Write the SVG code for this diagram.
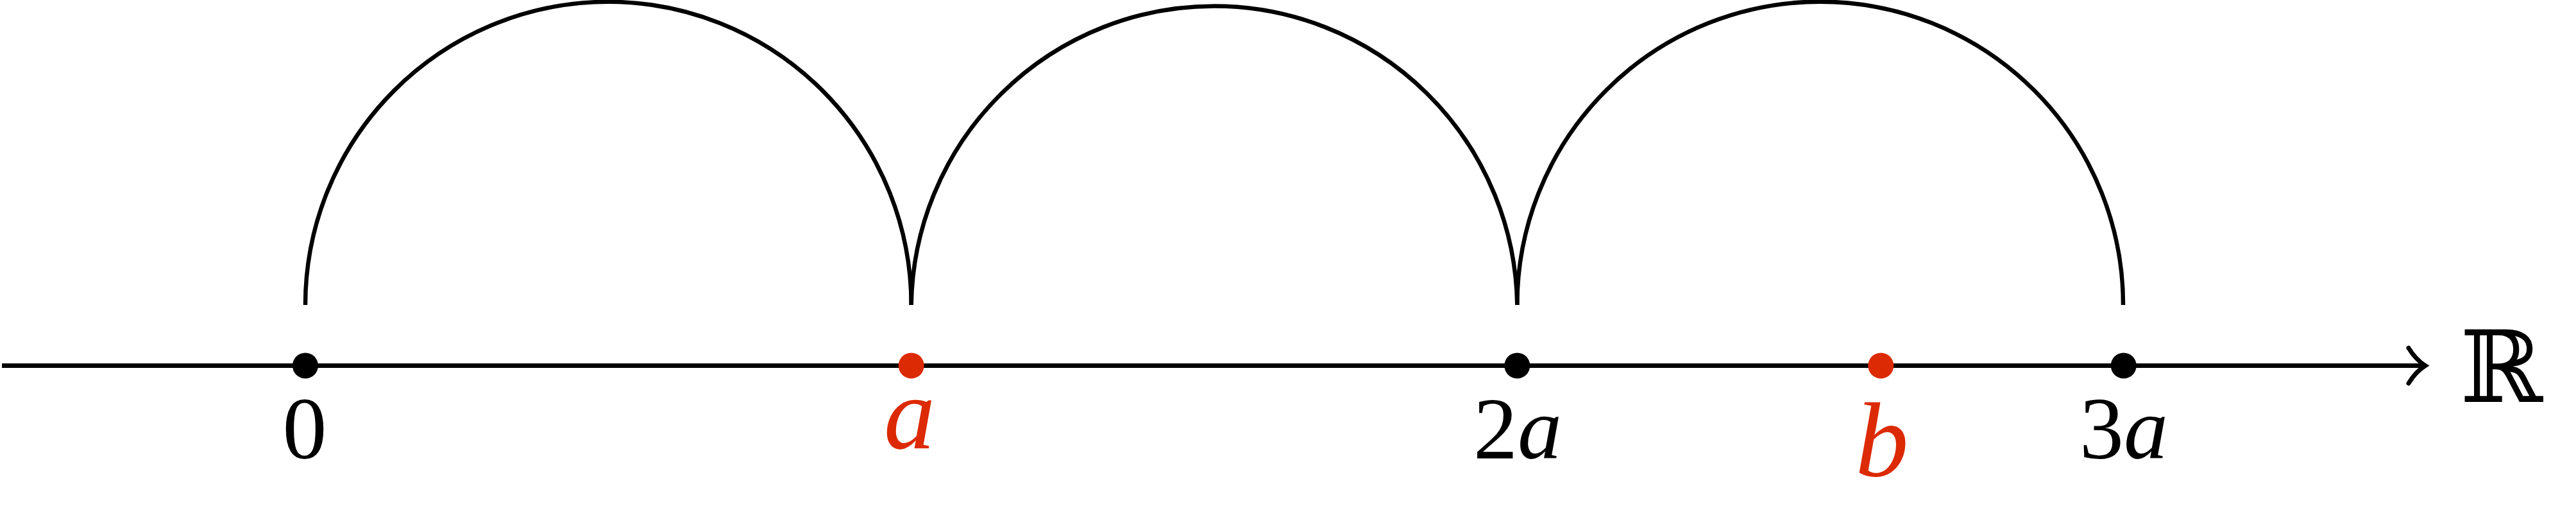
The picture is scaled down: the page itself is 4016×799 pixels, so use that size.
<svg xmlns="http://www.w3.org/2000/svg" width="4016" height="799" viewBox="0 0 4016 799">
<style>
.ln{fill:none;stroke:#000;stroke-width:7}
.arc{fill:none;stroke:#000;stroke-width:6.5}
.blk{fill:#000}
.red{fill:#dc2a04}
.t{font-family:"Liberation Serif",serif;text-anchor:middle}
.it{font-style:italic}
</style>
<rect width="4016" height="799" fill="#fff"/>
<g id="connectors">
<line class="ln" x1="3" y1="569.5" x2="3780" y2="569.5"/>
<path class="ln" d="M3755,542 Q3766,560 3781,569.5 Q3766,579 3755,597" stroke-linecap="round"/>
<path class="arc" d="M476,475 A472.35,472.35 0 0 1 1420.7,475"/>
<path class="arc" d="M1420.7,475 A472.35,472.35 0 0 1 2365.3,475"/>
<path class="arc" d="M2365.3,475 A472.35,472.35 0 0 1 3310,475"/>
</g>
<g id="p0"><circle class="blk" cx="476" cy="569.5" r="20"/><text class="t" x="475" y="714" font-size="138">0</text></g>
<g id="pa"><circle class="red" cx="1420.7" cy="569.5" r="20"/><text class="t it red" x="1418" y="698" font-size="160">a</text></g>
<g id="p2a"><circle class="blk" cx="2365.3" cy="569.5" r="20"/><text class="t" x="2366" y="714" font-size="138">2<tspan class="it">a</tspan></text></g>
<g id="pb"><circle class="red" cx="2932.3" cy="569.5" r="20"/><text class="t it red" x="2934" y="741" font-size="166">b</text></g>
<g id="p3a"><circle class="blk" cx="3310.7" cy="569.5" r="20"/><text class="t" x="3311" y="714" font-size="138">3<tspan class="it">a</tspan></text></g>
<g id="R"><text x="3900" y="626" font-family="DejaVu Serif,serif" font-size="155" text-anchor="middle">ℝ</text></g>
</svg>
